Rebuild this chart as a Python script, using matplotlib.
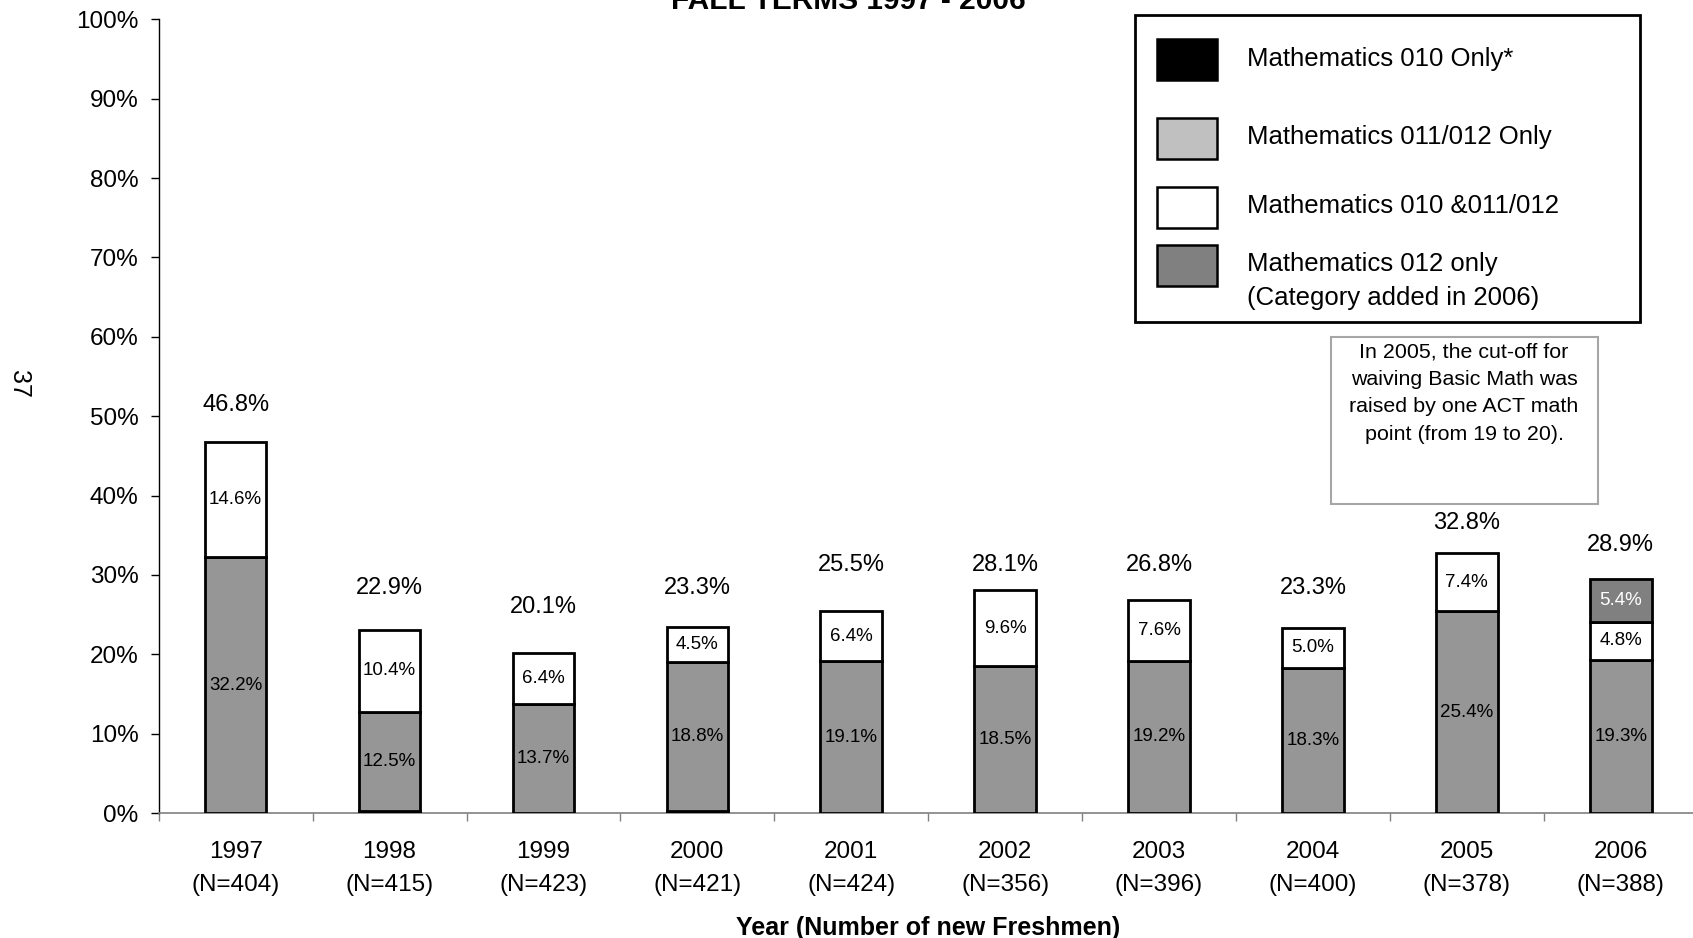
import matplotlib
matplotlib.use("Agg")
import matplotlib.pyplot as plt
from matplotlib.patches import Rectangle
import numpy as np

plt.rcParams['font.family'] = ['Liberation Sans', 'DejaVu Sans']

# ---- data -------------------------------------------------------------
years = ['1997', '1998', '1999', '2000', '2001', '2002', '2003', '2004', '2005', '2006']
n_freshmen = [404, 415, 423, 421, 424, 356, 396, 400, 378, 388]

math_010_only = [0.0, 0.2, 0.0, 0.2, 0.0, 0.0, 0.0, 0.0, 0.0, 0.0]
math_011_012_only = [32.2, 12.5, 13.7, 18.8, 19.1, 18.5, 19.2, 18.3, 25.4, 19.3]
math_010_and_011_012 = [14.6, 10.4, 6.4, 4.5, 6.4, 9.6, 7.6, 5.0, 7.4, 4.8]
math_012_only = [0.0, 0.0, 0.0, 0.0, 0.0, 0.0, 0.0, 0.0, 0.0, 5.4]

totals = [46.8, 22.9, 20.1, 23.3, 25.5, 28.1, 26.8, 23.3, 32.8, 28.9]

legend_labels = ['Mathematics 010 Only*',
                 'Mathematics 011/012 Only',
                 'Mathematics 010 &011/012',
                 'Mathematics 012 only\n(Category added in 2006)']

note_text = ('In 2005, the cut-off for\nwaiving Basic Math was\n'
             'raised by one ACT math\npoint (from 19 to 20).')

# ---- figure -----------------------------------------------------------
W, H, DPI = 1693, 938, 100
fig = plt.figure(figsize=(W / DPI, H / DPI), dpi=DPI)
ax = fig.add_axes([158.7 / W, 1 - 813 / H, 1539 / W, 793.6 / H])

x = np.arange(len(years))
bar_w = 0.4
bottom = np.zeros(len(years))

series = [
    (math_010_only, '#000000', None),
    (math_011_012_only, '#969696', 'black'),
    (math_010_and_011_012, '#FFFFFF', 'black'),
    (math_012_only, '#808080', 'white'),
]

for values, color, txt_color in series:
    vals = np.asarray(values, dtype=float)
    mask = vals > 0
    ax.bar(x[mask], vals[mask], bar_w, bottom=bottom[mask], color=color,
           edgecolor='black', linewidth=2.0, zorder=3)
    if txt_color is not None:
        for xi, v, b in zip(x[mask], vals[mask], bottom[mask]):
            ax.text(xi, b + v / 2, f'{v:.1f}%', ha='center', va='center',
                    fontsize=13.5, color=txt_color, zorder=4)
    bottom = bottom + vals

# totals above each stack
label_gap = [4.6, 5.2, 5.8, 4.8, 5.8, 3.2, 4.4, 5.0, 3.7, 4.3]
for xi, top, t, g in zip(x, bottom, totals, label_gap):
    ax.text(xi, top + g, f'{t:.1f}%', ha='center', va='center', fontsize=17)

# ---- axes styling -----------------------------------------------------
ax.set_xlim(-0.5, len(years) - 0.5)
ax.set_ylim(0, 100)
ax.set_yticks(np.arange(0, 101, 10))
ax.set_yticklabels([f'{v}%' for v in range(0, 101, 10)], fontsize=17.5)
ax.tick_params(axis='y', length=6, width=1, pad=8.5, color='black')

ax.set_xticks(x)
ax.set_xticklabels([f'{y}\n(N={n})' for y, n in zip(years, n_freshmen)],
                   fontsize=17.5, linespacing=1.6)
ax.set_xticks(np.arange(-0.5, len(years), 1.0), minor=True)
ax.tick_params(axis='x', which='major', length=0, pad=20.5)
ax.tick_params(axis='x', which='minor', length=6, width=1, color='#808080')

for s in ('top', 'right'):
    ax.spines[s].set_visible(False)
ax.spines['left'].set_color('black')
ax.spines['left'].set_linewidth(1.0)
ax.spines['bottom'].set_color('#808080')
ax.spines['bottom'].set_linewidth(1.2)

ax.set_xlabel('Year (Number of new Freshmen)', fontsize=18, fontweight='bold')
ax.xaxis.set_label_coords(0.5, -0.1294)

# ---- title (partly above the page edge) ---------------------------------
fig.text(848 / W, 1 - 9 / H, 'FALL TERMS 1997 - 2006', ha='center',
         va='baseline', fontsize=21.5, fontweight='bold')

# page number
fig.text(19 / W, 1 - 384 / H, '37', rotation=-90, ha='center', va='center',
         fontsize=18)

# ---- legend and note, drawn in pixel space ------------------------------
ov = fig.add_axes([0, 0, 1, 1], facecolor='none')
ov.set_xlim(0, W)
ov.set_ylim(H, 0)
ov.axis('off')

ov.add_patch(Rectangle((1135, 15), 505, 307, facecolor='white',
                       edgecolor='black', linewidth=2.0))
swatches = [('#000000', 39), ('#C0C0C0', 118), ('#FFFFFF', 187), ('#808080', 245)]
text_y = [59, 137, 206, 281]
for (col, sy), ty, lab in zip(swatches, text_y, legend_labels):
    ov.add_patch(Rectangle((1157, sy), 60, 41, facecolor=col,
                           edgecolor='black', linewidth=1.8))
    ov.text(1247, ty, lab, ha='left', va='center', fontsize=18.5,
            linespacing=1.48)

ov.add_patch(Rectangle((1331, 337), 267, 167, facecolor='white',
                       edgecolor='#A6A6A6', linewidth=1.5))
ov.text(1464, 343, note_text, ha='center', va='top', fontsize=15.4,
        linespacing=1.55)

fig.savefig('out.png', dpi=DPI)
